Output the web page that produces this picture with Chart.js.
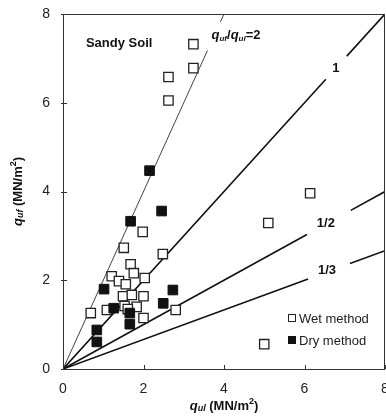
<!DOCTYPE html>
<html>
<head>
<meta charset="utf-8">
<script src="https://cdn.jsdelivr.net/npm/chart.js@4/dist/chart.umd.min.js"></script>
<style>
  html, body { margin: 0; padding: 0; background: #fff; }
  #wrap { width: 386px; height: 417px; }
</style>
</head>
<body>
<div id="wrap"><canvas id="chart"></canvas></div>
<script>
// axis ticks
const xTicks = [0, 2, 4, 6, 8];
const yTicks = [0, 2, 4, 6, 8];

// wet method (open squares): q_ul, q_uf
const wetX = [3.24, 3.24, 2.62, 2.62, 6.14, 5.10, 5.00, 1.98, 1.51, 2.48, 1.68, 1.21, 1.76, 2.03, 1.39, 1.56, 1.49, 1.71, 2.00, 1.53, 1.83, 1.09, 1.61, 0.69, 2.80, 2.00];
const wetY = [7.32, 6.78, 6.58, 6.05, 3.96, 3.29, 0.56, 3.09, 2.73, 2.59, 2.36, 2.09, 2.16, 2.05, 1.98, 1.91, 1.64, 1.67, 1.64, 1.42, 1.40, 1.33, 1.35, 1.26, 1.33, 1.15];

// dry method (filled squares)
const dryX = [2.15, 2.45, 1.68, 1.02, 2.73, 2.49, 1.26, 1.66, 1.66, 0.84, 0.84];
const dryY = [4.47, 3.56, 3.33, 1.80, 1.78, 1.48, 1.37, 1.26, 1.01, 0.88, 0.61];

// ratio lines q_uf/q_ul, and the q_ul range left open for each label
const ratios = [2, 1, 1 / 2, 1 / 3];
const ratioNames = ['2', '1', '1/2', '1/3'];
const gapFrom = [3.59, 6.53, 6.06, 6.09];
const gapTo = [3.91, 7.05, 7.15, 7.13];
const labelX = [3.69, 6.78, 6.53, 6.56];
const labelY = [7.52, 6.78, 3.29, 2.23];

const xMax = 8, yMax = 8;

function pts(xs, ys) {
    return xs.map((x, i) => ({ x: x, y: ys[i] }));
}

function ratioLine(i) {
    const r = ratios[i];
    const xEnd = Math.min(xMax, yMax / r);
    return [
        { x: 0, y: 0 },
        { x: gapFrom[i], y: gapFrom[i] * r },
        { x: (gapFrom[i] + gapTo[i]) / 2, y: null },
        { x: gapTo[i], y: gapTo[i] * r },
        { x: xEnd, y: xEnd * r }
    ];
}

const datasets = [
    {
        label: 'Dry method',
        data: pts(dryX, dryY),
        pointStyle: 'rect',
        pointRadius: 6.8,
        backgroundColor: '#111',
        borderColor: '#111',
        borderWidth: 1,
        showLine: false
    },
    {
        label: 'Wet method',
        data: pts(wetX, wetY),
        pointStyle: 'rect',
        pointRadius: 6.6,
        backgroundColor: '#fff',
        borderColor: '#222',
        borderWidth: 1.3,
        showLine: false
    }
];

ratios.forEach((r, i) => {
    datasets.push({
        label: 'ratio ' + ratioNames[i],
        data: ratioLine(i),
        showLine: true,
        spanGaps: false,
        pointRadius: 0,
        borderColor: i === 0 ? '#444' : '#111',
        borderWidth: i === 0 ? 1 : 1.6,
        fill: false
    });
});

const FONT = '"Liberation Sans", Arial, sans-serif';

function drawRich(ctx, parts, x, y) {
    // parts: [text, size, italic, dy]
    let cx = x;
    parts.forEach(p => {
        ctx.font = (p[2] ? 'italic ' : '') + 'bold ' + p[1] + 'px ' + FONT;
        ctx.fillText(p[0], cx, y + (p[3] || 0));
        cx += ctx.measureText(p[0]).width;
    });
    return cx - x;
}

function richWidth(ctx, parts) {
    let w = 0;
    parts.forEach(p => {
        ctx.font = (p[2] ? 'italic ' : '') + 'bold ' + p[1] + 'px ' + FONT;
        w += ctx.measureText(p[0]).width;
    });
    return w;
}

const decor = {
    id: 'decor',
    afterDatasetsDraw(chart) {
        const ctx = chart.ctx;
        const a = chart.chartArea;
        const xs = chart.scales.x, ys = chart.scales.y;
        ctx.save();

        // frame
        ctx.strokeStyle = '#333';
        ctx.lineWidth = 1;
        ctx.strokeRect(a.left + 0.5, a.top + 0.5, a.right - a.left - 1, a.bottom - a.top);

        // inside tick marks
        ctx.beginPath();
        xTicks.forEach(t => {
            const px = Math.round(xs.getPixelForValue(t)) + 0.5;
            ctx.moveTo(px, a.bottom);
            ctx.lineTo(px, a.bottom - 4);
        });
        yTicks.forEach(t => {
            const py = Math.round(ys.getPixelForValue(t)) + 0.5;
            ctx.moveTo(a.left - 2, py);
            ctx.lineTo(a.left + 4, py);
        });
        ctx.stroke();

        ctx.fillStyle = '#111';
        ctx.textBaseline = 'middle';

        // ratio labels
        ratios.forEach((r, i) => {
            const px = xs.getPixelForValue(labelX[i]);
            const py = ys.getPixelForValue(labelY[i]);
            if (i === 0) {
                ctx.textAlign = 'left';
                drawRich(ctx, [['q', 13, true], ['uf', 8, true, 3], ['/', 13], ['q', 13, true], ['ul', 8, true, 3], ['=2', 13]], px, py);
            } else {
                ctx.textAlign = 'center';
                ctx.font = 'bold 13px ' + FONT;
                ctx.fillText(ratioNames[i], px, py);
            }
        });

        // soil label
        ctx.textAlign = 'left';
        ctx.font = 'bold 13px ' + FONT;
        ctx.fillText('Sandy Soil', xs.getPixelForValue(0.57), ys.getPixelForValue(7.34));

        // legend
        ctx.font = '13px ' + FONT;
        const lx = 292, ly1 = 318, ly2 = 340;
        ctx.fillStyle = '#fff';
        ctx.fillRect(lx - 3.5, ly1 - 3.5, 7, 7);
        ctx.strokeStyle = '#222';
        ctx.strokeRect(lx - 3.5, ly1 - 3.5, 7, 7);
        ctx.fillStyle = '#111';
        ctx.fillRect(lx - 4, ly2 - 4, 8, 8);
        ctx.fillStyle = '#222';
        ctx.fillText('Wet method', lx + 7, ly1 + 1);
        ctx.fillText('Dry method', lx + 7, ly2 + 1);

        // x axis title
        const xt = [['q', 13, true], ['ul', 9, true, 3], [' (MN/m', 13], ['2', 9, false, -4], [')', 13]];
        ctx.fillStyle = '#111';
        const xw = richWidth(ctx, xt);
        drawRich(ctx, xt, (a.left + a.right) / 2 - xw / 2, 406);

        // y axis title
        const yt = [['q', 13, true], ['uf', 9, true, 3], [' (MN/m', 13], ['2', 9, false, -4], [')', 13]];
        const yw = richWidth(ctx, yt);
        ctx.translate(18, (a.top + a.bottom) / 2);
        ctx.rotate(-Math.PI / 2);
        drawRich(ctx, yt, -yw / 2, 0);

        ctx.restore();
    }
};

new Chart(document.getElementById('chart'), {
    type: 'scatter',
    data: { datasets: datasets },
    options: {
        responsive: true,
        maintainAspectRatio: false,
        animation: false,
        layout: { autoPadding: false, padding: { top: 14, right: 1, left: 0, bottom: 0 } },
        plugins: {
            legend: { display: false },
            tooltip: { enabled: false }
        },
        scales: {
            x: {
                type: 'linear',
                min: 0,
                max: xMax,
                afterBuildTicks: s => { s.ticks = xTicks.map(v => ({ value: v })); },
                afterFit: s => { s.height = 48; s.paddingLeft = 0; s.paddingRight = 0; },
                grid: { display: false, drawTicks: false },
                border: { display: false },
                ticks: {
                    padding: 12,
                    color: '#222',
                    font: { family: FONT, size: 14 }
                }
            },
            y: {
                type: 'linear',
                min: 0,
                max: yMax,
                afterBuildTicks: s => { s.ticks = yTicks.map(v => ({ value: v })); },
                afterFit: s => { s.width = 63; s.paddingTop = 0; s.paddingBottom = 0; },
                grid: { display: false, drawTicks: false },
                border: { display: false },
                ticks: {
                    padding: 13,
                    color: '#222',
                    font: { family: FONT, size: 14 }
                }
            }
        }
    },
    plugins: [decor]
});
</script>
</body>
</html>
